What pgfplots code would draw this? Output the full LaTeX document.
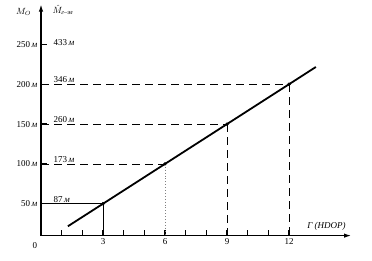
\documentclass[border=0pt]{standalone}
\usepackage{fontspec}
\setmainfont{Liberation Serif}
\usepackage{pgfplots}
\pgfplotsset{compat=1.18}
\usetikzlibrary{arrows.meta}
\begin{document}
\begin{tikzpicture}
\useasboundingbox (-41pt,-24.4pt) rectangle (331pt,235.6pt);
\begin{axis}[
  scale only axis, width=310pt, height=231pt,
  xmin=0, xmax=15, ymin=10, ymax=300,
  axis lines=left,
  axis line style={line width=1.1pt, -{Latex[length=7pt,width=4.5pt]}},
  xtick={1,2,3,4,5,6,7,8,9,10,11,12},
  xticklabels={,,3,,,6,,,9,,,12},
  ytick={50,100,150,200,250},
  yticklabels={50\,\textit{м},100\,\textit{м},150\,\textit{м},200\,\textit{м},250\,\textit{м}},
  tick align=inside,
  major tick length=6pt,
  tick style={line width=1.3pt, black},
  every x tick label/.style={font=\fontsize{9}{10}\selectfont, yshift=1pt},
  every y tick label/.style={font=\fontsize{9}{10}\selectfont},
  clip=false,
  /pgf/number format/assume math mode=true,
]
% reference guide lines
\addplot[black, line width=0.7pt, dash pattern=on 8pt off 5pt] coordinates {(0,200) (12,200)};
\addplot[black, line width=0.7pt, dash pattern=on 8pt off 5pt] coordinates {(12,200) (12,10)};
\addplot[black, line width=0.7pt, dash pattern=on 8pt off 5pt] coordinates {(0,150) (9,150)};
\addplot[black, line width=0.7pt, dash pattern=on 8pt off 5pt] coordinates {(9,150) (9,10)};
\addplot[black, line width=0.7pt, dash pattern=on 8pt off 5pt] coordinates {(0,100) (6,100)};
\addplot[gray, line width=0.9pt, dotted] coordinates {(6,100) (6,10)};
\addplot[black, line width=0.5pt] coordinates {(0,50) (3,50)};
\addplot[black, line width=0.5pt] coordinates {(3,50) (3,10)};
% main line
\addplot[black, line width=1.8pt] coordinates {(1.3,21.7) (3,50) (6,100) (9,150) (12,200) (13.3,221.7)};
\addplot[only marks, mark=*, mark size=1.5pt, black] coordinates {(3,50) (6,100) (9,150) (12,200)};
% right labels
\node[anchor=south west, font=\fontsize{9}{10}\selectfont, inner sep=1pt] at (axis cs:0.55,50) {87\,\textit{м}};
\node[anchor=south west, font=\fontsize{9}{10}\selectfont, inner sep=1pt] at (axis cs:0.55,100) {173\,\textit{м}};
\node[anchor=south west, font=\fontsize{9}{10}\selectfont, inner sep=1pt] at (axis cs:0.55,150) {260\,\textit{м}};
\node[anchor=south west, font=\fontsize{9}{10}\selectfont, inner sep=1pt] at (axis cs:0.55,200) {346\,\textit{м}};
\node[anchor=west, font=\fontsize{9}{10}\selectfont, inner sep=1pt] at (axis cs:0.55,252) {433\,\textit{м}};
% axis titles
\node[anchor=east, font=\fontsize{9}{10}\selectfont\itshape] at (axis cs:-0.3,291) {$M_O$};
\node[anchor=west, font=\fontsize{9}{10}\selectfont, inner sep=1pt] at (axis cs:0.5,293) {$\hat{M}_{\mbox{\fontsize{6.5}{7}\selectfont\itshape г--эл}}$};
\node[anchor=south east, font=\fontsize{9}{10}\selectfont\itshape, inner sep=1pt] at (axis cs:14.8,15) {Г (HDOP)};
\node[font=\fontsize{9}{10}\selectfont] at (axis cs:-0.3,-2) {0};
\end{axis}
\end{tikzpicture}
\end{document}
